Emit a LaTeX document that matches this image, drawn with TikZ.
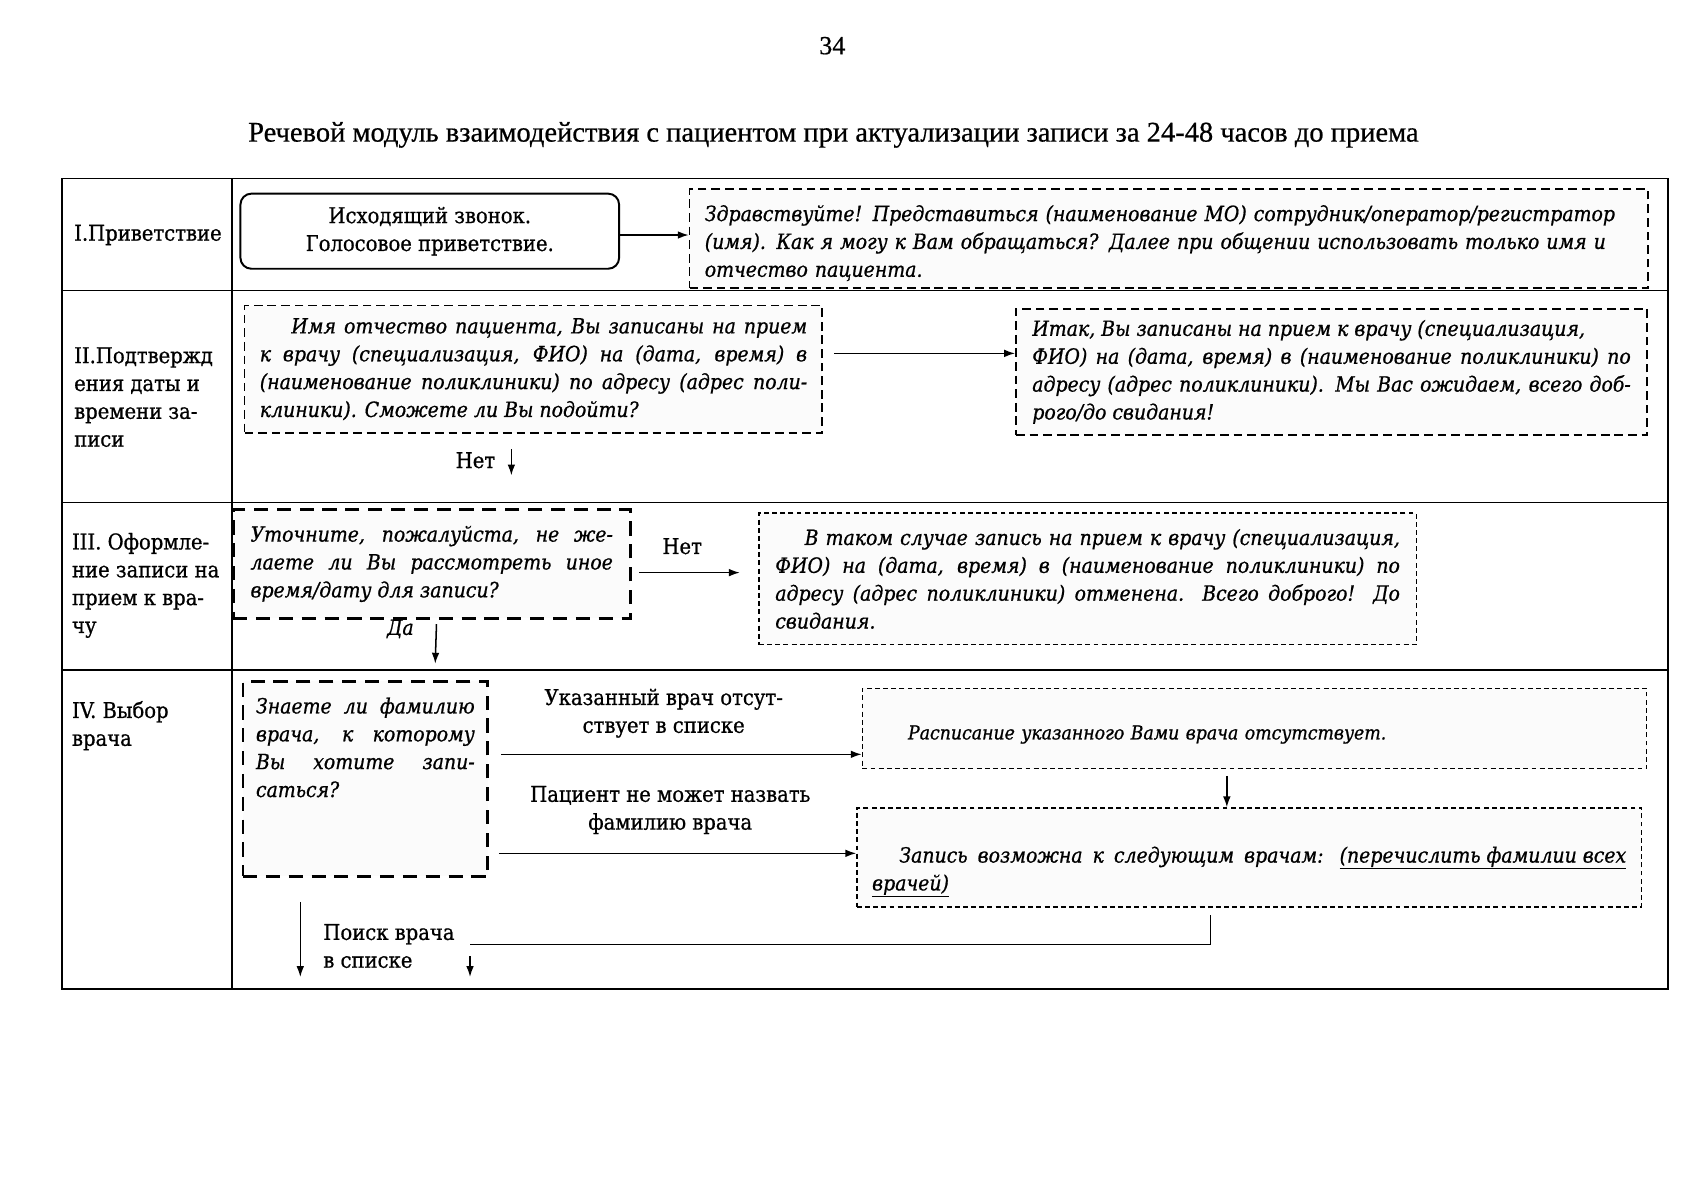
\documentclass[tikz,border=0pt]{standalone}
\usepackage{fontspec}
\setmainfont{Liberation Serif}[FakeBold=0.6]
\newfontfamily\bxf{DejaVuSerifCondensed}[Extension=.ttf,UprightFont=*,ItalicFont=*-Italic,BoldFont=*-Bold,BoldItalicFont=*-BoldItalic,FakeBold=0.8]
\usetikzlibrary{arrows.meta,calc}
\newcommand\tf{\bxf\fontsize{19.3}{25.6}\selectfont\hyphenpenalty=10000\tolerance=10000}
\newcommand\uf{\bxf\fontsize{20}{25.6}\selectfont}
\tikzset{
  tbl/.style={line width=1.5pt},
  lab/.style={font=\uf, align=left, inner sep=0pt, anchor=west},
  plain/.style={font=\uf, align=center, inner sep=0pt},
  rbox/.style={draw, rounded corners=10pt, line width=1.8pt, minimum width=348pt, minimum height=69pt, align=center, font=\uf},
  anybox/.style={draw, anchor=north west, inner ysep=0pt, fill=black!1.5, font=\tf\itshape},
  dbox/.style={anybox, line width=1.6pt, dash pattern=on 8pt off 4.5pt},
  tbox/.style={anybox, line width=2.6pt, dash pattern=on 13pt off 8pt},
  fbox/.style={anybox, line width=1.2pt, dash pattern=on 4.5pt off 3pt},
  arr/.style={-{Latex[length=10pt,width=7pt]}, line width=1.4pt},
  ln/.style={line width=1.4pt},
}
\begin{document}
\begin{tikzpicture}[x=1pt,y=-1pt]
\path[use as bounding box] (0,0) rectangle (1568,1103);
\node[font=\fontsize{24}{28}\selectfont] (pg) at (765,42) {34};
\node[font=\fontsize{26.2}{30}\selectfont] (title) at (766,124) {Речевой модуль взаимодействия с пациентом при актуализации записи за 24-48 часов до приема};

% table
\draw[tbl] (57,164) rectangle (1533,909);
\draw[tbl] (57,267) -- (1533,267) (57,462) -- (1533,462) (57,616) -- (1533,616) (213,164) -- (213,909);

% row labels
\node[lab] (l1) at (68,216) {I.Приветствие};
\node[lab] (l2) at (68,365) {II.Подтвержд\\ения даты и\\времени за-\\писи};
\node[lab] (l3) at (66,538) {III. Оформле-\\ние записи на\\прием к вра-\\чу};
\node[lab] (l4) at (66,667) {IV. Выбор\\врача};

% row I
\node[rbox] (b1) at (395,212.5) {Исходящий звонок.\\Голосовое приветствие.};
\node[dbox, text width=853pt, align=left, minimum height=91pt, inner xsep=14pt] (b2) at (633,173)
 {\rule{0pt}{23pt}Здравствуйте! Представиться (наименование МО) сотрудник/оператор/регистратор\\(имя). Как я могу к Вам обращаться? Далее при общении использовать только имя и\\отчество пациента.};
\draw[arr] ([yshift=-3.5pt]b1.east) -- ([yshift=-3.5pt]b1.east -| b2.west);

% row II
\node[dbox, text width=503pt, align=justify, minimum height=117pt, inner xsep=14pt] (b3) at (224,280)
 {\hspace*{29pt}Имя отчество пациента, Вы записаны на прием\linebreak к врачу (специализация, ФИО) на (дата, время) в\linebreak (наименование поликлиники) по адресу (адрес поли-\linebreak клиники). Сможете ли Вы подойти?};
\node[dbox, text width=550pt, align=justify, minimum height=116pt, inner xsep=15pt] (b4) at (933,283)
 {Итак, Вы записаны на прием к врачу (специализация,\newline ФИО) на (дата, время) в (наименование поликлиники) по\linebreak адресу (адрес поликлиники). Мы Вас ожидаем, всего доб-\linebreak рого/до свидания!};
\draw[arr, shorten <=10pt] ([yshift=14.5pt]b3.east) -- ([yshift=14.5pt]b3.east -| b4.west);
\node[plain] (net1) at (437,423) {Нет};
\coordinate (n1s) at (470,413);
\coordinate (n1e) at (470,437);
\draw[arr] (n1s) -- (n1e);

% row III
\node[tbox, text width=333pt, align=justify, minimum height=100pt, inner xsep=16pt] (b5) at (213,467)
 {Уточните, пожалуйста, не же-\linebreak лаете ли Вы рассмотреть иное\linebreak время/дату для записи?};
\node[fbox, text width=574pt, align=justify, minimum height=121pt, inner xsep=15pt] (b6) at (697,471)
 {\hspace*{27pt}В таком случае запись на прием к врачу (специализация,\linebreak ФИО) на (дата, время) в (наименование поликлиники) по\linebreak адресу (адрес поликлиники) отменена. Всего доброго! До\linebreak свидания.};
\node[plain] (net2) at (627,502) {Нет};
\draw[arr, shorten <=7pt, shorten >=17pt] ([yshift=-8pt]b5.east) -- ([yshift=-8pt]b5.east -| b6.west);
\node[plain, font=\tf\itshape] (da) at (368,578) {Да};
\coordinate (dae) at (400,610);
\draw[arr, shorten <=4pt] ([xshift=4.5pt]b5.south) -- (dae);

% row IV
\node[tbox, text width=201pt, align=justify, minimum height=179pt, inner xsep=12pt] (b7) at (222,625)
 {Знаете ли фамилию\linebreak врача, к которому\linebreak Вы хотите запи-\linebreak саться?\rule[-58pt]{0pt}{58pt}};
\node[fbox, text width=693pt, align=left, minimum height=74pt, inner xsep=14pt, font=\bxf\itshape\fontsize{17.7}{22}\selectfont] (b8) at (792,632)
 {\hspace*{28pt}\rule{0pt}{24pt}Расписание указанного Вами врача отсутствует.};
\node[fbox, text width=693pt, align=justify, minimum height=91pt, inner xsep=14pt] (b9) at (787,742)
 {\hspace*{25pt}\rule{0pt}{41pt}Запись возможна к следующим врачам: \underline{(перечислить фамилии всех}\linebreak \underline{врачей)}};
\node[plain] (t1) at (610,655.5) {Указанный врач отсут-\\ствует в списке};
\node[plain] (t2) at (616,744.5) {Пациент не может назвать\\фамилию врача};
\draw[arr, shorten <=11pt] ([yshift=22.5pt]b7.east) -- ([yshift=22.5pt]b7.east -| b8.west);
\draw[arr, shorten <=9pt] ([yshift=-68.5pt]b7.east) -- ([yshift=-68.5pt]b7.east -| b9.west);
\draw[arr, shorten <=6pt] ([xshift=-25.5pt]b8.south) -- ([xshift=-25.5pt]b8.south |- b9.north);
\coordinate (pl) at (432,868);
\draw[ln] ([xshift=-35.5pt,yshift=-7pt]b9.south) -- ([xshift=-35.5pt]b9.south |- pl) -- (pl);
\node[lab] (poisk) at (297,869.5) {Поиск врача\\в списке};
\coordinate (ps) at (432,879);
\coordinate (pe) at (432,898);
\draw[arr] (ps) -- (pe);
\coordinate (bs) at (276,829);
\coordinate (be) at (276,898);
\draw[arr] (bs) -- (be);
\end{tikzpicture}
\end{document}
